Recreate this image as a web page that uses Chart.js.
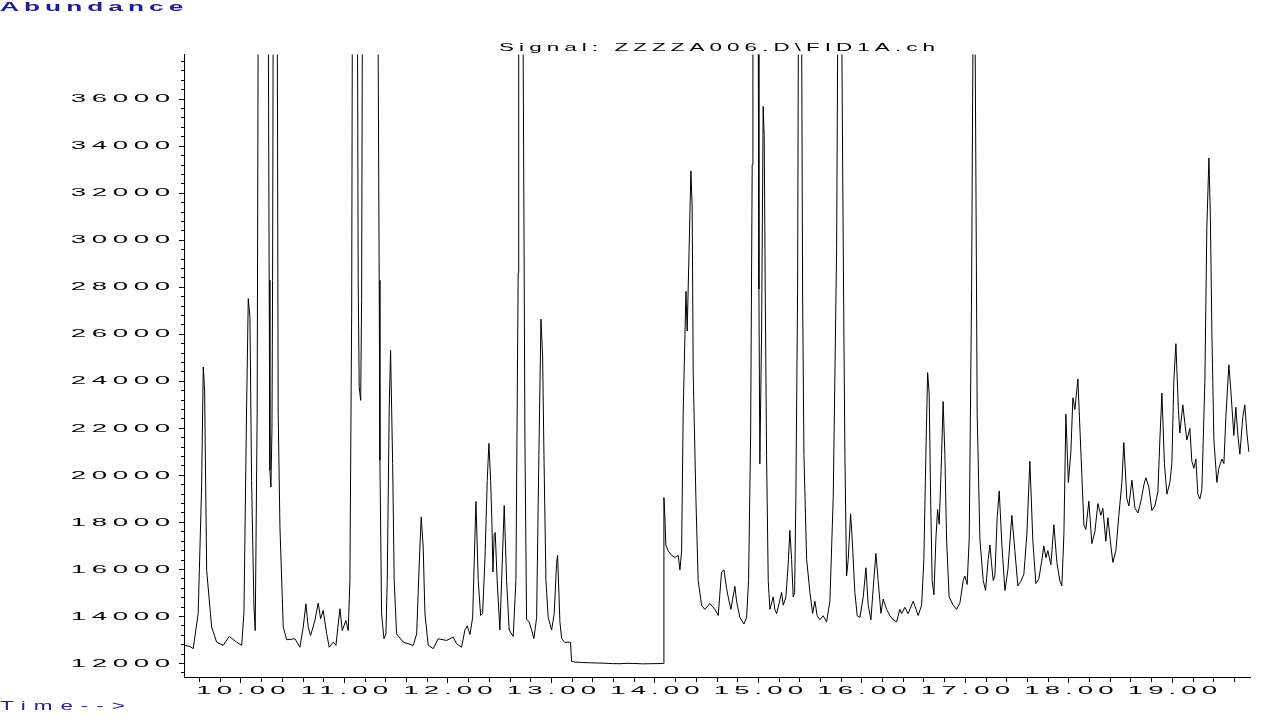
<!DOCTYPE html>
<html>
<head>
<meta charset="utf-8">
<title>Signal: ZZZZA006.D\FID1A.ch</title>
<script src="https://cdn.jsdelivr.net/npm/chart.js@4.4.1/dist/chart.umd.min.js"></script>
<style>
  html, body { margin: 0; padding: 0; background: #fff; }
  canvas { display: block; }
</style>
</head>
<body>
<canvas id="chrom" width="1280" height="720"></canvas>
<script>
// Retention time (min)
const retentionTimes = [
  9.459, 9.507, 9.539, 9.587, 9.620, 9.636, 9.649, 9.669, 9.717, 9.765,
  9.829, 9.887, 9.958, 10.007, 10.029, 10.055, 10.071, 10.087, 10.103, 10.126,
  10.138, 10.157, 10.167, 10.264, 10.273, 10.280, 10.290, 10.300, 10.306, 10.312,
  10.351, 10.360, 10.377, 10.409, 10.442, 10.522, 10.570, 10.602, 10.628, 10.650,
  10.673, 10.715, 10.747, 10.770, 10.795, 10.828, 10.853, 10.892, 10.918, 10.957,
  10.979, 11.014, 11.037, 11.053, 11.070, 11.077, 11.126, 11.133, 11.143, 11.157,
  11.166, 11.174, 11.324, 11.336, 11.343, 11.359, 11.382, 11.401, 11.414, 11.433,
  11.446, 11.466, 11.481, 11.504, 11.568, 11.665, 11.698, 11.723, 11.742, 11.761,
  11.778, 11.810, 11.858, 11.906, 11.987, 12.051, 12.084, 12.132, 12.164, 12.187,
  12.213, 12.239, 12.271, 12.293, 12.316, 12.335, 12.358, 12.380, 12.396, 12.413,
  12.425, 12.435, 12.447, 12.457, 12.476, 12.502, 12.519, 12.544, 12.567, 12.592,
  12.631, 12.657, 12.679, 12.684, 12.725, 12.734, 12.744, 12.760, 12.783, 12.809,
  12.831, 12.857, 12.879, 12.899, 12.915, 12.928, 12.947, 12.969, 13.002, 13.027,
  13.050, 13.060, 13.082, 13.099, 13.131, 13.162, 13.185, 13.195, 13.227, 13.300,
  13.372, 13.450, 13.517, 13.590, 13.662, 13.730, 13.807, 13.880, 13.952, 14.020,
  14.082, 14.087, 14.097, 14.106, 14.129, 14.161, 14.193, 14.225, 14.242, 14.258,
  14.273, 14.300, 14.312, 14.329, 14.348, 14.360, 14.370, 14.396, 14.418, 14.451,
  14.483, 14.531, 14.580, 14.612, 14.644, 14.667, 14.693, 14.708, 14.734, 14.773,
  14.789, 14.821, 14.860, 14.886, 14.905, 14.925, 14.940, 14.947, 14.998, 15.005,
  15.014, 15.031, 15.046, 15.056, 15.066, 15.079, 15.095, 15.111, 15.143, 15.159,
  15.176, 15.201, 15.224, 15.240, 15.266, 15.288, 15.304, 15.321, 15.336, 15.350,
  15.362, 15.379, 15.387, 15.417, 15.427, 15.440, 15.466, 15.498, 15.524, 15.546,
  15.568, 15.594, 15.626, 15.659, 15.691, 15.723, 15.756, 15.768, 15.804, 15.814,
  15.826, 15.836, 15.852, 15.868, 15.891, 15.906, 15.932, 15.955, 15.981, 16.013,
  16.039, 16.061, 16.087, 16.109, 16.135, 16.157, 16.184, 16.206, 16.239, 16.271,
  16.302, 16.335, 16.367, 16.384, 16.415, 16.447, 16.496, 16.544, 16.577, 16.599,
  16.618, 16.635, 16.650, 16.664, 16.679, 16.696, 16.715, 16.731, 16.747, 16.770,
  16.785, 16.802, 16.818, 16.843, 16.882, 16.915, 16.947, 16.979, 16.995, 17.017,
  17.037, 17.060, 17.075, 17.092, 17.101, 17.114, 17.140, 17.172, 17.195, 17.220,
  17.237, 17.253, 17.269, 17.285, 17.307, 17.327, 17.353, 17.382, 17.411, 17.449,
  17.478, 17.507, 17.536, 17.565, 17.594, 17.623, 17.652, 17.681, 17.710, 17.739,
  17.758, 17.778, 17.797, 17.826, 17.855, 17.884, 17.913, 17.932, 17.952, 17.971,
  17.995, 18.019, 18.039, 18.058, 18.087, 18.116, 18.145, 18.164, 18.193, 18.222,
  18.251, 18.280, 18.309, 18.328, 18.357, 18.377, 18.406, 18.425, 18.454, 18.483,
  18.512, 18.531, 18.560, 18.580, 18.609, 18.638, 18.667, 18.696, 18.725, 18.744,
  18.773, 18.802, 18.831, 18.860, 18.879, 18.899, 18.923, 18.947, 18.976, 18.995,
  19.014, 19.034, 19.058, 19.072, 19.101, 19.121, 19.140, 19.169, 19.188, 19.208,
  19.227, 19.246, 19.266, 19.285, 19.314, 19.333, 19.353, 19.367, 19.382, 19.401,
  19.430, 19.449, 19.478, 19.498, 19.517, 19.546, 19.565, 19.594, 19.613, 19.633,
  19.652, 19.681, 19.700, 19.720, 19.739,
];

// FID response at those times (off-scale peaks estimated above the top)
const abundance = [
  12770, 12720, 12630, 14130, 19500, 24610, 23620, 15960, 13550, 12910,
  12770, 13150, 12910, 12770, 14130, 22910, 27520, 26740, 19790, 14400,
  13400, 22640, 40000, 40000, 28300, 20210, 19500, 22000, 28300, 40000,
  40000, 22640, 17800, 13550, 13010, 13050, 12690, 13550, 14540, 13550,
  13190, 13830, 14570, 13900, 14260, 13280, 12690, 12910, 12770, 14330,
  13400, 13830, 13400, 15530, 26890, 40000, 40000, 28300, 23760, 23190,
  27450, 40000, 40000, 28300, 20640, 14120, 13050, 13260, 15530, 22910,
  25320, 20500, 15530, 13260, 12910, 12770, 13260, 16240, 18230, 16950,
  14120, 12770, 12630, 13050, 12980, 13120, 12840, 12690, 13420, 13600,
  13230, 13950, 18890, 15530, 14040, 14130, 16430, 19780, 21360, 19780,
  18010, 15890, 17480, 17570, 15530, 13420, 15530, 18720, 15530, 13420,
  13150, 15530, 28620, 40000, 40000, 31450, 21550, 13870, 13790, 13420,
  13060, 13950, 20850, 26640, 25080, 20840, 15530, 13960, 13420, 14120,
  16260, 16600, 13770, 13060, 12890, 12910, 12890, 12090, 12060, 12040,
  12030, 12020, 12010, 11995, 11990, 12005, 12000, 11985, 11990, 11995,
  12000, 19060, 18190, 17040, 16780, 16600, 16510, 16600, 15980, 16780,
  22600, 27830, 26140, 29320, 32950, 31450, 24380, 19060, 15530, 14470,
  14300, 14550, 14300, 14040, 15890, 15980, 15180, 14830, 14300, 15280,
  14650, 13960, 13680, 13950, 15530, 21720, 33210, 40000, 40000, 27920,
  20490, 26140, 35690, 34450, 27920, 20850, 15530, 14300, 14830, 14300,
  14120, 14570, 15020, 14480, 14830, 16240, 17660, 16420, 14830, 15010,
  19070, 27920, 40000, 40000, 27920, 20850, 16430, 15020, 14130, 14650,
  14030, 13860, 14030, 13770, 14650, 19060, 29680, 40000, 40000, 33210,
  26140, 20850, 15720, 16420, 18370, 17300, 15020, 14030, 13960, 14830,
  16070, 14480, 13860, 15180, 16680, 15530, 14130, 14740, 14300, 14030,
  13860, 13770, 14300, 14120, 14390, 14120, 14650, 14040, 14480, 16420,
  20850, 24370, 23490, 19070, 15530, 14920, 17300, 18550, 17920, 20840,
  23140, 20840, 17300, 14830, 14480, 14300, 14570, 15530, 15720, 15360,
  17300, 27920, 40000, 40000, 33210, 22600, 17300, 15530, 15110, 16420,
  17040, 16240, 15530, 15720, 18190, 19340, 17000, 15100, 16000, 18300,
  16800, 15300, 15500, 15800, 17500, 20600, 17200, 15400, 15600, 16400,
  17000, 16500, 16800, 16200, 17900, 16300, 15500, 15300, 17500, 22600,
  19700, 21000, 23300, 22800, 24100, 21000, 17900, 17700, 18900, 17100,
  17600, 18800, 18300, 18600, 17200, 18200, 17000, 16300, 16800, 18300,
  19700, 21400, 19000, 18700, 19800, 18600, 18400, 18900, 19600, 19900,
  19500, 18500, 18700, 19300, 21500, 23500, 20500, 19200, 19700, 20500,
  24000, 25600, 22800, 21800, 23000, 22200, 21500, 22000, 20600, 20300,
  20700, 19200, 19000, 19400, 24000, 30500, 33500, 31000, 26000, 21500,
  19700, 20300, 20700, 20500, 22500, 24700, 23600, 21700, 22900, 21700,
  20900, 22500, 23000, 21800, 21000,
];

// Axis labels as printed
const timeLabels = ['10.00', '11.00', '12.00', '13.00', '14.00', '15.00', '16.00', '17.00', '18.00', '19.00'];
const abundanceLabels = ['12000', '14000', '16000', '18000', '20000', '22000', '24000',
  '26000', '28000', '30000', '32000', '34000', '36000'];

const yTitle = 'Abundance';
const xTitle = 'Time-->';
const signalTitle = 'Signal: ZZZZA006.D\\FID1A.ch';

const X_MIN = 9.45, X_MAX = 19.75;
const Y_MIN = 11425, Y_MAX = 37900;
const NAVY = '#1f1f8f';
const FAMILY = "'Liberation Sans', Arial, sans-serif";
const TICK_FONT = { family: FAMILY, size: 11.5 };
const TITLE_FONT = { family: FAMILY, size: 12.5 };

// The printout stretches its lettering wide and spaces it out;
// stretch = horizontal scale, gap = letter spacing before scaling
function letterStyle(text) {
  if (text === yTitle) return { stretch: 2.1, gap: 2.4 };
  if (text === xTitle) return { stretch: 1.8, gap: 4.4 };
  if (text === signalTitle) return { stretch: 1.95, gap: 2.6 };
  if (timeLabels.includes(text)) return { stretch: 2.4, gap: 2.1 };
  if (abundanceLabels.includes(text)) return { stretch: 2.4, gap: 2.35 };
  return null;
}

const wideText = {
  id: 'wideText',
  beforeInit(chart) {
    const ctx = chart.ctx;
    const fillText = ctx.fillText.bind(ctx);
    ctx.fillText = (text, x, y, maxWidth) => {
      const style = letterStyle(String(text));
      if (!style) return maxWidth === undefined ? fillText(text, x, y) : fillText(text, x, y, maxWidth);
      ctx.save();
      ctx.letterSpacing = style.gap + 'px';
      ctx.translate(x, y);
      ctx.scale(style.stretch, 1);
      // trailing spacing is counted in the advance, push it back out
      let dx = 0;
      if (ctx.textAlign === 'right') dx = style.gap;
      else if (ctx.textAlign === 'center') dx = style.gap / 2;
      fillText(text, dx, 0);
      ctx.restore();
    };
  },
};

const points = retentionTimes.map((t, i) => ({ x: t, y: abundance[i] }));

new Chart(document.getElementById('chrom'), {
  type: 'line',
  data: {
    datasets: [{
      data: points,
      borderColor: '#000',
      borderWidth: 1,
      pointRadius: 0,
      tension: 0,
      fill: false,
    }],
  },
  options: {
    responsive: false,
    animation: false,
    layout: { padding: { left: 0, right: 30, top: 0, bottom: 0 } },
    plugins: {
      legend: { display: false },
      tooltip: { enabled: false },
      title: {
        display: true, text: yTitle, align: 'start', color: NAVY,
        font: TITLE_FONT, padding: 0,
      },
      subtitle: {
        display: true, text: xTitle, position: 'bottom', align: 'start', color: NAVY,
        font: TITLE_FONT, padding: { top: 0, bottom: 5.5 },
      },
    },
    scales: {
      x: {
        type: 'linear', position: 'bottom', min: X_MIN, max: X_MAX,
        afterBuildTicks(axis) {
          const ticks = [];
          for (let v = 9.6; v <= X_MAX + 1e-9; v = Math.round((v + 0.2) * 10) / 10) {
            ticks.push({ value: v });
          }
          axis.ticks = ticks;
        },
        afterFit(axis) { axis.height = 22.5; },
        grid: {
          display: true, drawOnChartArea: false, drawTicks: true,
          tickLength: 6, tickColor: '#000', tickWidth: 1,
          tickBorderDash: (c) => (c.tick && Number.isInteger(c.tick.value) ? [] : [4, 30]),
        },
        border: { display: true, color: '#000', width: 1 },
        ticks: {
          autoSkip: false, maxRotation: 0, minRotation: 0, padding: 1,
          color: '#000', font: TICK_FONT,
          callback: (v) => (Number.isInteger(v) ? timeLabels[v - 10] ?? '' : ''),
        },
      },
      signal: {
        type: 'linear', position: 'top', min: X_MIN, max: X_MAX,
        afterFit(axis) { axis.height = 39.5; },
        grid: { display: false },
        border: { display: false },
        ticks: { display: false },
        title: {
          display: true, text: signalTitle, color: '#000', font: TICK_FONT,
          padding: { top: 26.1, bottom: 0 },
        },
      },
      y: {
        type: 'linear', position: 'left', min: Y_MIN, max: Y_MAX,
        afterBuildTicks(axis) {
          const ticks = [];
          for (let v = 11600; v <= Y_MAX; v += 400) ticks.push({ value: v });
          axis.ticks = ticks;
        },
        afterFit(axis) { axis.width = 184; },
        grid: {
          display: true, drawOnChartArea: false, drawTicks: true,
          tickLength: 5, tickColor: '#000', tickWidth: 1,
          // left ticks are stroked from the outer end towards the axis
          tickBorderDash: (c) => (c.tick && c.tick.value % 2000 === 0 ? [] : [0, 2, 3, 30]),
        },
        border: { display: true, color: '#000', width: 1 },
        ticks: {
          autoSkip: false, padding: 9, color: '#000', font: TICK_FONT,
          callback: (v) => (v % 2000 === 0 ? abundanceLabels[(v - 12000) / 2000] ?? '' : ''),
        },
      },
    },
  },
  plugins: [wideText],
});
</script>
</body>
</html>
